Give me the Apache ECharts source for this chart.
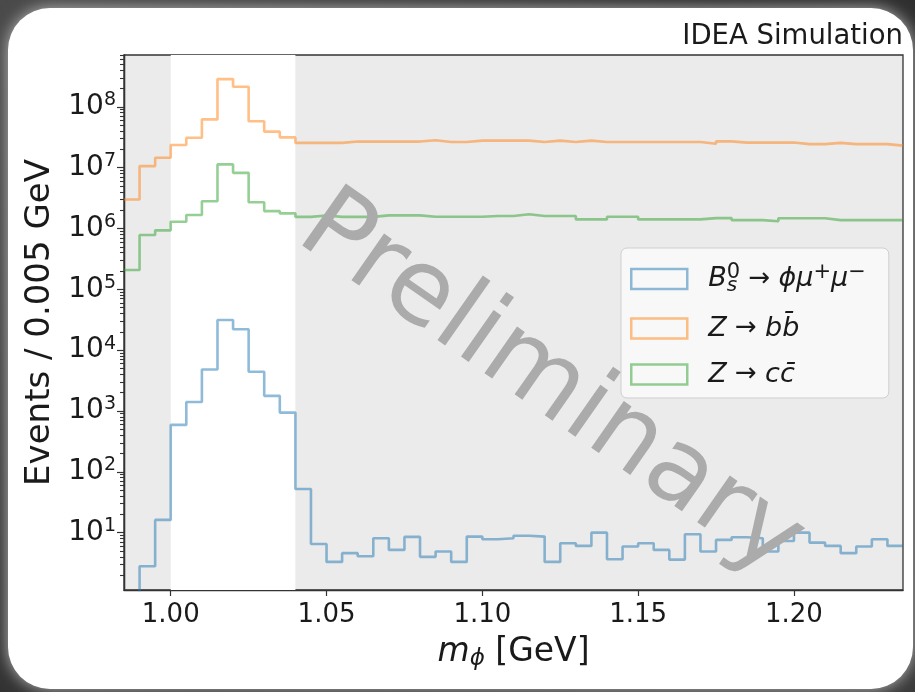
<!DOCTYPE html>
<html>
<head>
<meta charset="utf-8">
<script src="https://cdn.jsdelivr.net/npm/echarts@6/dist/echarts.min.js"></script>
<style>
  html, body { margin: 0; padding: 0; background: #2d2d2d; }
  #chart { width: 915px; height: 692px; }
</style>
</head>
<body>
<div id="chart"></div>
<script>
// Binning of the phi candidate mass (GeV)
const binStart = 0.985;
const binWidth = 0.005;

// Events per bin, 50 bins from 0.985 to 1.235 GeV
const bsPhiMuMu = [1, 2.8, 16.2, 590, 1400, 4800, 31300, 22000, 4400, 1770,
  940, 52, 6.5, 3.3, 4.6, 4.1, 8.1, 5.2, 8.5, 4.0,
  4.9, 3.3, 8.6, 7.8, 8.1, 8.9, 8.6, 3.3, 6.7, 6.05,
  10.0, 3.65, 5.9, 6.7, 5.2, 3.6, 9.4, 4.9, 7.6, 8.4,
  8.1, 4.9, 7.3, 10.0, 6.85, 6.05, 4.6, 5.9, 7.8, 6.05];

const zToBB = [3.0e6, 1.06e7, 1.45e7, 2.35e7, 3.1e7, 6.2e7, 2.85e8, 2.13e8, 5.8e7, 3.9e7,
  3.14e7, 2.55e7, 2.55e7, 2.55e7, 2.68e7, 2.68e7, 2.68e7, 2.68e7, 2.68e7, 2.81e7,
  2.64e7, 2.64e7, 2.78e7, 2.78e7, 2.78e7, 2.78e7, 2.64e7, 2.78e7, 2.64e7, 2.78e7,
  2.64e7, 2.64e7, 2.64e7, 2.64e7, 2.64e7, 2.64e7, 2.64e7, 2.47e7, 2.7e7, 2.58e7,
  2.58e7, 2.58e7, 2.58e7, 2.43e7, 2.43e7, 2.55e7, 2.43e7, 2.43e7, 2.43e7, 2.3e7];

const zToCC = [2.07e5, 7.8e5, 9.3e5, 1.29e6, 1.66e6, 2.8e6, 1.13e7, 8.2e6, 2.7e6, 1.93e6,
  1.77e6, 1.55e6, 1.63e6, 1.55e6, 1.55e6, 1.55e6, 1.64e6, 1.64e6, 1.64e6, 1.56e6,
  1.56e6, 1.56e6, 1.56e6, 1.6e6, 1.6e6, 1.71e6, 1.6e6, 1.6e6, 1.6e6, 1.41e6,
  1.41e6, 1.56e6, 1.56e6, 1.41e6, 1.41e6, 1.41e6, 1.41e6, 1.48e6, 1.48e6, 1.37e6,
  1.37e6, 1.31e6, 1.47e6, 1.47e6, 1.47e6, 1.37e6, 1.37e6, 1.37e6, 1.37e6, 1.37e6];

// Mass window left unshaded
const signalWindow = [1.00, 1.04];

// Axis ticks
const xTickValues = [1.00, 1.05, 1.10, 1.15, 1.20];
const yTickValues = [1e1, 1e2, 1e3, 1e4, 1e5, 1e6, 1e7, 1e8];
const yMin = 1.14;
const yMax = 7.1e8;

const seriesNames = ['bs', 'zbb', 'zcc'];
const seriesColors = ['rgba(31,119,180,0.5)', 'rgba(255,127,14,0.5)', 'rgba(44,160,44,0.5)'];

const FONT = 'DejaVu Sans';

// minor log ticks 2..9 x 10^k inside the visible range
const yMinorValues = [];
for (let k = 0; k <= 8; k++) {
  for (let m = 2; m <= 9; m++) {
    const v = m * Math.pow(10, k);
    if (v > yMin && v < yMax) yMinorValues.push(v);
  }
}

// histogram outline: one point per left bin edge plus the closing right edge
function stepPoints(counts) {
  const pts = counts.map((v, i) => [+(binStart + i * binWidth).toFixed(4), v]);
  pts.push([+(binStart + counts.length * binWidth).toFixed(4), counts[counts.length - 1]]);
  return pts;
}

const xMax = +(binStart + bsPhiMuMu.length * binWidth).toFixed(4);

const legendLabels = {
  bs: '{it|B}{sub|s}{sup|0}{ar| \u2192 }{it|\u03d5\u03bc}{sup|+}{it|\u03bc}{sup|\u2212}',
  zbb: '{it|Z}{ar| \u2192 }{it|bb\u0304}',
  zcc: '{it|Z}{ar| \u2192 }{it|cc\u0304}'
};

const chart = echarts.init(document.getElementById('chart'), null, { renderer: 'canvas' });

const histData = [bsPhiMuMu, zToBB, zToCC];

const option = {
  animation: false,
  backgroundColor: 'transparent',
  graphic: [
    {
      type: 'rect', z: -20, silent: true,
      shape: { x: 0, y: 0, width: 915, height: 692 },
      style: {
        fill: new echarts.graphic.LinearGradient(0, 0, 1, 1, [
          { offset: 0, color: '#4a4a4a' },
          { offset: 0.5, color: '#2a2a2a' },
          { offset: 1, color: '#3a3a3a' }
        ])
      }
    },
    {
      type: 'rect', z: -10, silent: true,
      shape: { x: 8, y: 8, width: 905, height: 681, r: 42 },
      style: { fill: '#ffffff', shadowBlur: 16, shadowColor: 'rgba(200,200,200,0.9)' }
    },
    {
      type: 'text', z: 50, silent: true,
      x: 903, y: 37,
      style: {
        text: 'IDEA Simulation', align: 'right', verticalAlign: 'middle',
        font: '27.5px "DejaVu Sans"', fill: '#1a1a1a'
      }
    },
    {
      type: 'text', z: 100, silent: true,
      x: 550, y: 386, rotation: -35 * Math.PI / 180,
      style: {
        text: 'Preliminary', align: 'center', verticalAlign: 'middle',
        font: '104px "DejaVu Sans"', fill: '#ababab'
      }
    }
  ],
  grid: {
    left: 124, top: 55, width: 779, height: 535,
    show: true, backgroundColor: '#ebebeb', borderColor: '#333', borderWidth: 1.3
  },
  legend: {
    orient: 'vertical',
    left: 621, top: 248,
    itemWidth: 56, itemHeight: 20, itemGap: 19,
    selectedMode: false,
    icon: 'rect',
    backgroundColor: 'rgba(250,250,250,0.85)',
    borderColor: '#cfcfcf', borderWidth: 1, borderRadius: 6,
    padding: [14, 23, 10, 9],
    data: seriesNames.map((n, i) => ({
      name: n,
      itemStyle: { color: 'rgba(255,255,255,0)', borderColor: seriesColors[i], borderWidth: 2.5 }
    })),
    formatter: name => legendLabels[name],
    textStyle: {
      padding: [0, 0, 0, 16],
      rich: {
        it: { fontFamily: FONT, fontStyle: 'italic', fontSize: 27, color: '#1a1a1a', lineHeight: 34 },
        ar: { fontFamily: FONT, fontSize: 26, color: '#1a1a1a', lineHeight: 34 },
        sub: { fontFamily: FONT, fontStyle: 'italic', fontSize: 20, color: '#1a1a1a', verticalAlign: 'bottom', lineHeight: 19, width: 0 },
        sup: { fontFamily: FONT, fontSize: 21, color: '#1a1a1a', verticalAlign: 'top', lineHeight: 20 }
      }
    }
  },
  xAxis: {
    type: 'value',
    min: binStart, max: xMax,
    splitLine: { show: false },
    axisLine: { show: true, onZero: false, lineStyle: { color: '#333', width: 1.3 } },
    axisTick: { show: true, customValues: xTickValues, length: 6, lineStyle: { color: '#333', width: 1.2 } },
    axisLabel: {
      customValues: xTickValues, margin: 12,
      formatter: v => v.toFixed(2),
      fontFamily: FONT, fontSize: 26, color: '#1a1a1a'
    },
    name: '{it|m}{sub|\u03d5} [GeV]',
    nameLocation: 'middle', nameGap: 43,
    nameTextStyle: {
      fontFamily: FONT, fontSize: 33, color: '#1a1a1a',
      rich: {
        it: { fontFamily: FONT, fontStyle: 'italic', fontSize: 33, color: '#1a1a1a', lineHeight: 38 },
        sub: { fontFamily: FONT, fontStyle: 'italic', fontSize: 23, color: '#1a1a1a', verticalAlign: 'bottom', lineHeight: 22 }
      }
    }
  },
  yAxis: [
    {
      type: 'log', logBase: 10, min: yMin, max: yMax,
      splitLine: { show: false },
      axisLine: { show: true, lineStyle: { color: '#333', width: 1.3 } },
      axisTick: { show: true, customValues: yTickValues, length: 7, lineStyle: { color: '#333', width: 1.2 } },
      axisLabel: {
        customValues: yTickValues, margin: 8,
        formatter: v => '{b|10}{e|' + Math.round(Math.log10(v)) + '}',
        rich: {
          b: { fontFamily: FONT, fontSize: 28, color: '#1a1a1a', lineHeight: 32 },
          e: { fontFamily: FONT, fontSize: 19, color: '#1a1a1a', verticalAlign: 'top', lineHeight: 19 }
        }
      },
      name: 'Events / 0.005 GeV',
      nameLocation: 'middle', nameGap: 66, nameRotate: 90,
      nameTextStyle: { fontFamily: FONT, fontSize: 34, color: '#1a1a1a' }
    },
    {
      type: 'log', logBase: 10, min: yMin, max: yMax,
      position: 'left',
      splitLine: { show: false },
      axisLine: { show: true, lineStyle: { color: '#333', width: 1.3 } },
      axisTick: { show: true, customValues: yMinorValues, length: 4, lineStyle: { color: '#333', width: 1.1 } },
      axisLabel: { show: true, customValues: yMinorValues, formatter: () => '' }
    }
  ],
  series: seriesNames.map((n, i) => ({
    name: n,
    type: 'line',
    step: 'end',
    yAxisIndex: 0,
    data: stepPoints(histData[i]),
    showSymbol: false,
    symbol: 'none',
    color: seriesColors[i],
    lineStyle: { color: seriesColors[i], width: 2.6 },
    clip: true,
    z: 3,
    markArea: i === 0 ? {
      silent: true,
      itemStyle: { color: '#ffffff' },
      data: [[{ xAxis: signalWindow[0] }, { xAxis: signalWindow[1] }]]
    } : undefined
  }))
};

chart.setOption(option);
</script>
</body>
</html>
